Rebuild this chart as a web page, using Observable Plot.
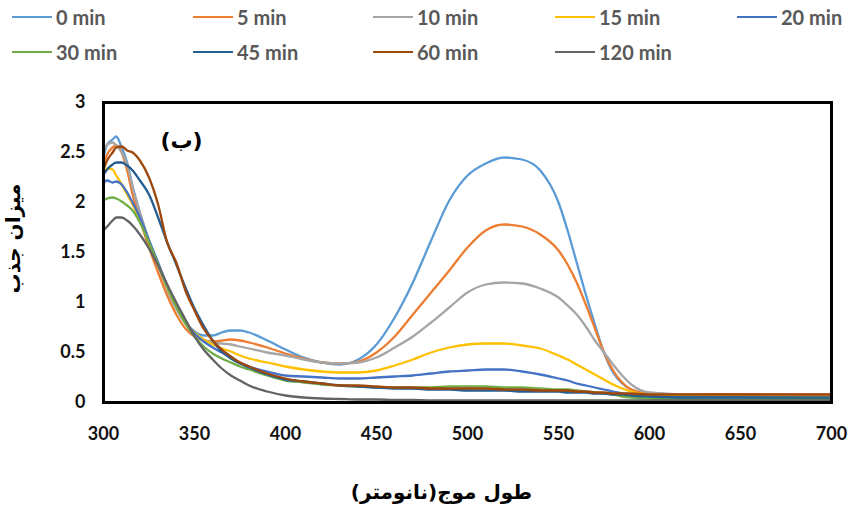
<!DOCTYPE html>
<html>
<head>
<meta charset="utf-8">
<script src="https://cdn.jsdelivr.net/npm/d3@7"></script>
<script src="https://cdn.jsdelivr.net/npm/@observablehq/plot@0.6"></script>
<style>
  body { margin: 0; background: #fff; width: 850px; overflow: hidden; }
  #legend { position: relative; width: 850px; height: 80px; font-family: Lato, "Open Sans", sans-serif; font-weight: bold; font-size: 20px; color: #595959; }
  .item { position: absolute; display: flex; align-items: center; height: 24px; }
  .swatch { width: 40px; height: 2.5px; margin-right: 4px; }
  #chart svg { display: block; }
</style>
</head>
<body>
<div id="legend"></div>
<div id="chart"></div>
<script>
const wavelengths = [300,302,305,307,310,313,316,320,325,330,335,340,345,350,355,360,365,370,375,380,390,400,410,420,430,440,450,460,470,480,490,500,510,520,530,540,550,555,560,565,570,575,580,585,590,600,620,650,700];

const seriesNames = ["0 min","5 min","10 min","15 min","20 min","30 min","45 min","60 min","120 min"];
const seriesColors = ["#5B9BD5","#ED7D31","#A5A5A5","#FFC000","#4472C4","#70AD47","#255E91","#9E480E","#636363"];

const abs0 = [2.45,2.58,2.63,2.66,2.55,2.40,2.16,1.90,1.62,1.37, 1.13,0.94,0.80,0.71,0.67,0.67,0.70,0.72,0.72,0.70, 0.62,0.53,0.45,0.40,0.38,0.43,0.58,0.85,1.20,1.62, 2.02,2.27,2.39,2.45,2.43,2.32,2.00,1.72,1.40,1.08, 0.78,0.50,0.30,0.19,0.13,0.09,0.08,0.08,0.07];
const abs5 = [2.38,2.48,2.55,2.57,2.50,2.32,2.08,1.83,1.55,1.30, 1.07,0.88,0.74,0.66,0.62,0.61,0.62,0.63,0.62,0.60, 0.55,0.49,0.44,0.40,0.39,0.41,0.50,0.66,0.88,1.10, 1.32,1.55,1.72,1.78,1.76,1.68,1.52,1.38,1.20,0.98, 0.74,0.50,0.32,0.20,0.13,0.09,0.08,0.08,0.08];
const abs10 = [2.50,2.58,2.60,2.57,2.50,2.38,2.15,1.90,1.62,1.38, 1.14,0.94,0.79,0.69,0.63,0.60,0.59,0.58,0.56,0.54, 0.50,0.47,0.43,0.40,0.39,0.40,0.45,0.55,0.66,0.80, 0.95,1.10,1.18,1.20,1.19,1.14,1.05,0.97,0.88,0.76, 0.62,0.50,0.38,0.27,0.18,0.10,0.08,0.07,0.07];
const abs15 = [2.30,2.34,2.33,2.27,2.18,2.08,1.98,1.82,1.60,1.38, 1.15,0.96,0.80,0.70,0.63,0.58,0.54,0.51,0.47,0.44, 0.40,0.36,0.33,0.31,0.30,0.30,0.32,0.37,0.43,0.50, 0.55,0.58,0.59,0.59,0.57,0.54,0.47,0.43,0.38,0.33, 0.28,0.23,0.18,0.14,0.11,0.08,0.07,0.06,0.06];
const abs20 = [2.20,2.22,2.20,2.21,2.18,2.10,2.00,1.85,1.62,1.40, 1.17,0.97,0.81,0.69,0.61,0.55,0.50,0.45,0.40,0.36, 0.31,0.27,0.26,0.25,0.24,0.24,0.25,0.26,0.27,0.29, 0.31,0.32,0.33,0.33,0.31,0.28,0.24,0.22,0.19,0.17, 0.15,0.13,0.11,0.09,0.08,0.06,0.05,0.05,0.04];
const abs30 = [2.02,2.04,2.05,2.04,2.01,1.97,1.92,1.80,1.60,1.38, 1.16,0.96,0.79,0.66,0.56,0.49,0.44,0.40,0.36,0.33, 0.27,0.22,0.20,0.18,0.17,0.16,0.15,0.15,0.15,0.15, 0.16,0.16,0.16,0.15,0.15,0.14,0.13,0.13,0.12,0.11, 0.10,0.09,0.08,0.06,0.05,0.04,0.03,0.03,0.03];
const abs45 = [2.28,2.33,2.38,2.40,2.40,2.37,2.32,2.22,2.08,1.85, 1.60,1.38,1.15,0.94,0.77,0.62,0.51,0.44,0.39,0.35, 0.28,0.23,0.21,0.19,0.17,0.16,0.15,0.14,0.14,0.13, 0.13,0.12,0.12,0.12,0.11,0.11,0.11,0.10,0.10,0.10, 0.09,0.09,0.08,0.08,0.07,0.06,0.05,0.05,0.05];
const abs60 = [2.33,2.42,2.50,2.55,2.56,2.52,2.50,2.42,2.25,1.98, 1.60,1.40,1.12,0.92,0.74,0.62,0.53,0.46,0.40,0.36, 0.29,0.24,0.21,0.19,0.17,0.17,0.16,0.15,0.15,0.14, 0.14,0.14,0.14,0.13,0.13,0.12,0.12,0.12,0.11,0.11, 0.10,0.10,0.09,0.09,0.09,0.08,0.08,0.08,0.08];
const abs120 = [1.72,1.76,1.82,1.85,1.85,1.82,1.77,1.68,1.54,1.37, 1.18,1.00,0.83,0.66,0.53,0.43,0.34,0.27,0.22,0.17, 0.11,0.07,0.05,0.04,0.035,0.03,0.03,0.025,0.025,0.02, 0.02,0.02,0.02,0.02,0.02,0.02,0.02,0.02,0.02,0.02, 0.02,0.02,0.02,0.02,0.02,0.02,0.02,0.02,0.02];

const xTicks = [300,350,400,450,500,550,600,650,700];
const yTicks = [0,0.5,1,1.5,2,2.5,3];

const xTitle = "طول موج(نانومتر)";
const yTitle = "میزان جذب";
const panelTitle = "(ب)";

const seriesValues = [abs0,abs5,abs10,abs15,abs20,abs30,abs45,abs60,abs120];
const rows = [];
seriesNames.forEach((name, i) => {
  wavelengths.forEach((wl, j) => rows.push({series: name, wl, v: seriesValues[i][j]}));
});

// Legend
const legend = document.getElementById("legend");
const colX = [12, 193, 373, 555, 737];
const rowY = [5, 40];
seriesNames.forEach((name, i) => {
  const item = document.createElement("div");
  item.className = "item";
  item.style.left = colX[i % 5] + "px";
  item.style.top = rowY[Math.floor(i / 5)] + "px";
  const sw = document.createElement("span");
  sw.className = "swatch";
  sw.style.background = seriesColors[i];
  const t = document.createElement("span");
  t.textContent = name;
  item.appendChild(sw); item.appendChild(t);
  legend.appendChild(item);
});

const chart = Plot.plot({
  width: 850,
  height: 429,
  marginLeft: 103,
  marginRight: 19,
  marginTop: 22,
  marginBottom: 107,
  style: {fontFamily: "Lato, 'Open Sans', sans-serif", fontSize: "18px", fontWeight: "bold", color: "#111", background: "white"},
  x: {domain: [300, 700]},
  y: {domain: [0, 3]},
  color: {domain: seriesNames, range: seriesColors},
  marks: [
    Plot.line(rows, {x: "wl", y: "v", z: "series", stroke: "series", strokeWidth: 2.3, curve: "monotone-x"}),
    Plot.frame({stroke: "black", strokeWidth: 3}),
    Plot.axisX({ticks: xTicks, tickSize: 0, tickPadding: 25, label: null, tickFormat: d => String(d)}),
    Plot.axisY({ticks: yTicks, tickSize: 0, tickPadding: 18, label: null, tickFormat: d => String(d)}),
    Plot.text([panelTitle], {frameAnchor: "top-left", dx: 78, dy: 38, textAnchor: "middle", lineAnchor: "middle", fontSize: 22, fontWeight: "bold", fontFamily: "DejaVu Sans", fill: "black"}),
    Plot.text([xTitle], {frameAnchor: "bottom", dx: -26, dy: 90, lineAnchor: "middle", fontSize: 20, fontWeight: "bold", fontFamily: "DejaVu Sans", fill: "black"}),
    Plot.text([yTitle], {frameAnchor: "left", dx: -90, dy: -14, rotate: -90, lineAnchor: "middle", textAnchor: "middle", fontSize: 20, fontWeight: "bold", fontFamily: "DejaVu Sans", fill: "black"})
  ]
});
document.getElementById("chart").appendChild(chart);
</script>
</body>
</html>
